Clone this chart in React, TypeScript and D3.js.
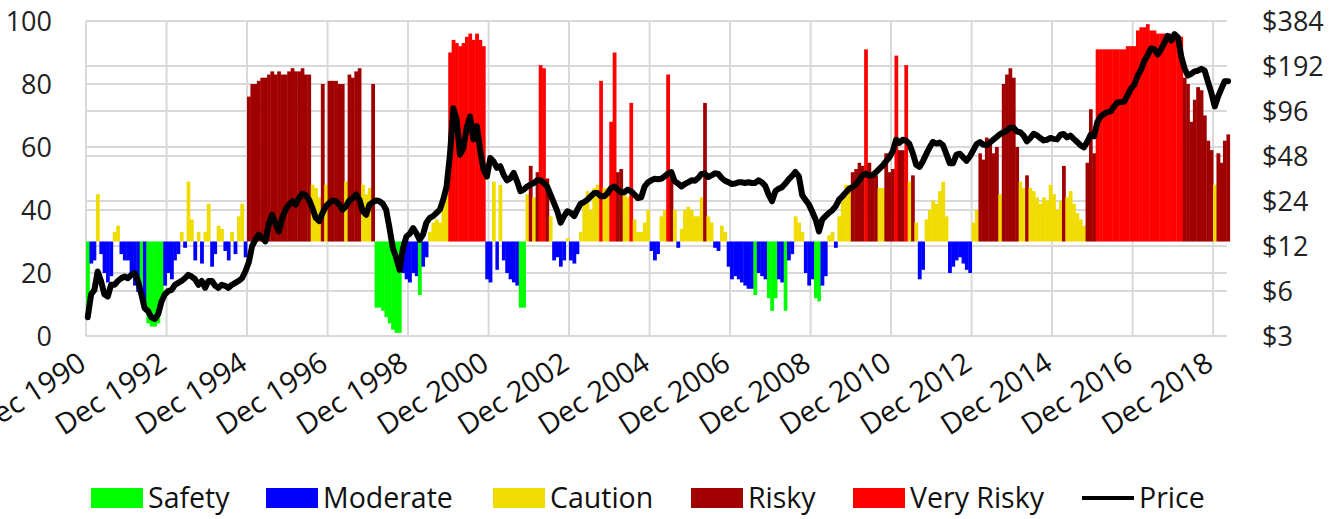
import React from "react";
import * as d3 from "d3";

// ---------- DATA (monthly, Dec 1990 .. Apr 2019) ----------
// oscillator values (0-100), bars drawn from the 30 line
const oscA = [
  8, 23, 24, 45, 26, 20, 17, 19, 33, 35, 26, 24, 24, 20, 16, 14, 13, 9, 4, 3,
  3, 4, 10, 16, 20, 18, 24, 26, 33, 28, 49, 37, 24, 33, 23, 33, 42, 22, 26, 35,
  34, 27, 24, 33, 26, 38, 42, 25, 76, 80, 80, 81, 82, 82, 83, 84, 83, 84, 83, 83,
  84, 85, 84, 84, 85, 83, 83, 48, 47, 44, 80, 48, 81, 81, 81, 80, 80, 49, 83, 82,
  84, 85, 48, 45, 47, 80, 9, 9, 8, 6, 4, 2, 1, 1, 20, 18, 17, 20, 19, 13,
  22, 25, 33, 36, 37, 36, 44, 50, 90, 94, 93, 92, 93, 95, 96, 94, 96, 94, 92, 18,
];
// regime per month (S=Safety, M=Moderate, C=Caution, R=Risky, V=Very Risky), one row per 20 months
const regimeA = [
  "SMMCMMMMCCMMMMMMSMSS",
  "SSSMMMMMCMCCMCMCCMMC",
  "CMMCMCCMRRRRRRRRRRRR",
  "RRRRRRRCCCRCRRRRRCRR",
  "RRCCCRSSSSSSSSMMMMMS",
  "MMCCCCCCVVVVVVVVVVVM",
];
const oscB = [
  17, 49, 21, 48, 24, 20, 18, 17, 16, 9, 9, 45, 54, 44, 52, 86, 85, 50, 38, 24,
  25, 22, 24, 31, 24, 23, 26, 33, 42, 46, 40, 47, 48, 81, 47, 45, 68, 90, 52, 53,
  45, 44, 74, 37, 33, 33, 36, 40, 27, 24, 26, 38, 40, 83, 50, 40, 28, 34, 40, 41,
  40, 38, 38, 44, 74, 38, 36, 28, 27, 35, 33, 22, 18, 19, 18, 17, 16, 15, 15, 13,
  20, 19, 18, 12, 8, 12, 18, 17, 8, 24, 26, 38, 36, 33, 20, 16, 18, 12, 11, 16,
  19, 32, 33, 28, 38, 43, 48, 48, 52, 53, 55, 54, 91, 55, 52, 51, 47, 47, 58, 52,
];
const regimeB = [
  "MCMCMMMMMSSCRCRVVRCM",
  "MMMCMMMCCCCCCVCCVVRR",
  "CCVCCCCCMMMCCVRCMCCC",
  "CCCCRCCMMCCMMMMMMMMS",
  "MMMSSSMMSMMCCCMMMSSM",
  "MCCMCCCCRRRRVRRRCCRR",
];
const oscC = [
  53, 89, 59, 59, 86, 49, 51, 36, 18, 21, 37, 40, 43, 42, 46, 49, 38, 20, 22, 24,
  25, 23, 21, 20, 36, 40, 58, 56, 63, 62, 58, 60, 45, 80, 83, 85, 82, 60, 49, 47,
  51, 47, 46, 44, 42, 44, 43, 48, 45, 40, 43, 54, 44, 46, 42, 39, 37, 35, 55, 72,
  58, 91, 91, 91, 91, 91, 91, 91, 91, 91, 92, 92, 92, 97, 98, 98, 99, 97, 97, 96,
  96, 96, 96, 96, 95, 95, 95, 82, 80, 68, 75, 79, 78, 70, 62, 59, 48, 58, 55, 62,
  64,
];
const regimeC = [
  "RVRRVCRCMMCCCCCCCMMM",
  "MMMMCCRRRRRRCRRRRRCC",
  "RCCCCCCCCCCRCCCCCCRR",
  "RVVVVVVVVVVVVVVVVVVV",
  "VVVVVVVRRRRRRRRRCRRR",
  "R",
];

// price ($, log scale)
const priceA = [
  4.0, 5.7, 6.1, 8.1, 7.0, 5.7, 5.5, 6.6, 6.6, 7.0, 7.3, 7.5, 7.3, 7.7, 7.9, 7.0, 5.7, 4.6, 4.4, 4.0,
  3.9, 4.2, 5.1, 5.7, 6.0, 6.1, 6.6, 6.8, 7.0, 7.3, 7.7, 7.5, 7.2, 6.6, 7.0, 6.3, 7.0, 7.0, 6.5, 6.3,
  6.6, 6.5, 6.3, 6.6, 6.8, 7.0, 7.3, 8.1, 9.3, 12.0, 13.2, 14.3, 13.6, 12.9, 16.7, 19.4, 17.0, 15.0, 18.5, 21.0,
  22.7, 23.9, 22.7, 25.1, 26.8, 26.3, 24.5, 21.5, 18.5, 17.6, 20.0, 22.1, 23.3, 24.2, 23.9, 22.7, 21.0, 22.1, 24.2, 25.1,
  26.5, 24.5, 20.5, 19.4, 22.7, 23.6, 24.2, 23.9, 23.0, 21.0, 15.8, 11.6, 10.0, 8.3, 11.6, 13.9, 14.5, 15.8, 14.6, 13.2,
  14.3, 17.2, 18.5, 19.0, 20.0, 21.0, 24.5, 30, 49, 100, 84, 49, 54, 74, 88, 62, 76, 52, 39, 35,
];
const priceB = [
  46.5, 44, 40, 41, 36, 33, 34, 37, 32.5, 27.9, 28.6, 30, 30.9, 31.7, 33, 33, 31.7, 30, 26.5, 23.3,
  20.5, 17.2, 19, 20.5, 20, 19, 21, 23, 23.6, 24.5, 25.8, 27.1, 27.1, 25.8, 25.8, 27.1, 29.3, 30, 28.6, 27.5,
  27.5, 28.6, 27.9, 26.5, 25.1, 25.4, 30, 32, 33, 33.8, 33.6, 33.8, 35.1, 36.6, 37.5, 32.5, 31.4, 30, 31.2, 32,
  33, 32.8, 34.2, 36.4, 36.6, 34.7, 35.6, 36.8, 36.4, 34.2, 32.8, 32, 31.2, 31.4, 32, 32, 31.7, 32, 31.7, 31.7,
  33, 32, 30.3, 26.5, 23.9, 27.9, 29, 29.7, 31.4, 33.5, 35.3, 37.5, 35.1, 26.2, 24.4, 22.7, 20.3, 18, 15, 18,
  19, 20, 20.8, 22.1, 24.5, 25.8, 27.4, 29, 29.7, 31.2, 33, 35.6, 36.6, 35.5, 35.8, 37.3, 39.3, 41.4, 44.3, 47,
];
const priceC = [
  51.6, 61.7, 58.7, 61.7, 60.8, 57.8, 50.3, 42, 40.6, 44.2, 49.4, 54.8, 59.6, 58.1, 59, 56.6, 49.4, 43, 43, 49,
  49.7, 47, 44.6, 47.8, 52.4, 57.8, 59.6, 57.2, 56.6, 59, 61.7, 64.3, 67.3, 69.2, 71, 74.2, 74.2, 69.9, 69.2, 66,
  60.2, 63.3, 67.6, 66, 63.3, 61, 61.7, 63.3, 62.5, 62, 66.6, 67.3, 63.9, 65.8, 62.5, 59.6, 56.6, 54.8, 59.6, 66.6,
  65, 81, 88.3, 91.7, 94.4, 95.4, 103, 109.6, 110.1, 111.2, 122.3, 135.5, 143.9, 166, 181, 206.9, 226.7, 251.5, 248.9, 229.4,
  248.9, 275.6, 305.6, 284, 313.4, 297.8, 223.4, 185.7, 166, 170, 176.8, 178.6, 183.8, 178.6, 150, 126.8, 103, 120.4, 135.5, 151.6,
  152,
];

const leftTicks = [0, 20, 40, 60, 80, 100];
const rightTicks = [3, 6, 12, 24, 48, 96, 192, 384];
const yearTicks = [1990, 1992, 1994, 1996, 1998, 2000, 2002, 2004, 2006, 2008, 2010, 2012, 2014, 2016, 2018];

const legendItems = [
  { key: "S", label: "Safety" },
  { key: "M", label: "Moderate" },
  { key: "C", label: "Caution" },
  { key: "R", label: "Risky" },
  { key: "V", label: "Very Risky" },
  { key: "P", label: "Price" },
];

// ---------- STYLE / LAYOUT ----------
const COLORS: Record<string, string> = {
  S: "#00ff00",
  M: "#0000ff",
  C: "#f0dc00",
  R: "#a00000",
  V: "#ff0000",
};
const FONT = "'Open Sans', 'Noto Sans', sans-serif";
const W = 1331;
const H = 519;
const PL = 86;
const PT = 21;
const PB = 336;
const PR = 1229.7;
const BASE = 30;
const legendX = [91, 266, 493, 691, 853, 1082];

export default function App() {
  const osc = [...oscA, ...oscB, ...oscC];
  const regime = [...regimeA, ...regimeB, ...regimeC].join("").split("");
  const price = [...priceA, ...priceB, ...priceC];
  const n = osc.length;

  const start = new Date(1990, 11, 1);
  const dateAt = (i: number) => d3.timeMonth.offset(start, i);

  const x = d3.scaleTime().domain([start, dateAt(n)]).range([PL, PR]);
  const yL = d3.scaleLinear().domain([0, 100]).range([PB, PT]);
  const yR = d3.scaleLog().base(2).domain([3, 384]).range([PB, PT]);

  const line = d3
    .line<number>()
    .x((_, i) => (x(dateAt(i)) + x(dateAt(i + 1))) / 2)
    .y((d) => yR(d))
    .curve(d3.curveLinear);

  const gridColor = "#d9d9d9";
  const plotRight = 1227;

  return (
    <svg width={W} height={H} style={{ display: "block", position: "absolute", left: 0, top: 0 }}>
      <rect x={0} y={0} width={W} height={H} fill="#ffffff" />
      {/* gridlines */}
      {leftTicks.map((t) => (
        <line key={"gl" + t} x1={PL} x2={plotRight} y1={yL(t)} y2={yL(t)} stroke={gridColor} strokeWidth={2} />
      ))}
      {rightTicks.map((t) => (
        <line key={"gr" + t} x1={PL} x2={plotRight} y1={yR(t)} y2={yR(t)} stroke={gridColor} strokeWidth={2} />
      ))}
      {yearTicks.map((yr) => {
        const xx = x(new Date(yr, 11, 1));
        return <line key={"gv" + yr} x1={xx} x2={xx} y1={PT} y2={PB} stroke={gridColor} strokeWidth={2} />;
      })}

      {/* bars */}
      {osc.map((v, i) => {
        const x0 = x(dateAt(i));
        const x1 = x(dateAt(i + 1));
        const y0 = yL(BASE);
        const y1 = yL(v);
        return (
          <rect
            key={"b" + i}
            x={x0}
            width={x1 - x0 + 0.4}
            y={Math.min(y0, y1)}
            height={Math.abs(y1 - y0)}
            fill={COLORS[regime[i]] || "#888"}
          />
        );
      })}

      {/* price line */}
      <path d={line(price) || ""} fill="none" stroke="#000" strokeWidth={6} strokeLinejoin="round" strokeLinecap="round" />

      {/* left axis labels */}
      {leftTicks.map((t) => (
        <text key={"ll" + t} x={52} y={yL(t)} dy="0.36em" textAnchor="end" fontFamily={FONT} fontSize={27} fill="#222">
          {t}
        </text>
      ))}
      {/* right axis labels */}
      {rightTicks.map((t) => (
        <text key={"rl" + t} x={1262} y={yR(t)} dy="0.36em" textAnchor="start" fontFamily={FONT} fontSize={27} fill="#222">
          {"$" + t}
        </text>
      ))}
      {/* x labels */}
      {yearTicks.map((yr) => {
        const xx = x(new Date(yr, 11, 1));
        return (
          <text
            key={"xl" + yr}
            transform={`translate(${xx + 2},${368}) rotate(-33)`}
            textAnchor="end"
            fontFamily={FONT}
            fontSize={29}
            fill="#111"
          >
            {"Dec " + yr}
          </text>
        );
      })}

      {/* legend */}
      {legendItems.map((it, k) => {
        const lx = legendX[k];
        return (
          <g key={"lg" + it.key}>
            {it.key === "P" ? (
              <line x1={lx} x2={lx + 52} y1={498} y2={498} stroke="#000" strokeWidth={4} />
            ) : (
              <rect x={lx} y={488} width={52} height={20} fill={COLORS[it.key]} />
            )}
            <text x={lx + 57} y={498} dy="0.36em" fontFamily={FONT} fontSize={28.5} fill="#111">
              {it.label}
            </text>
          </g>
        );
      })}
    </svg>
  );
}
